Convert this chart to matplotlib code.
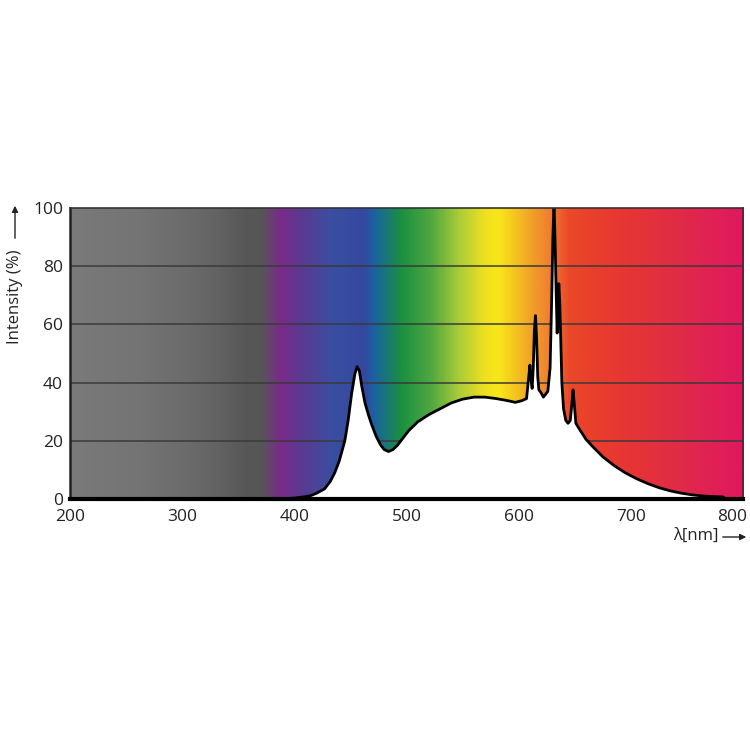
import numpy as np
import matplotlib
matplotlib.use("Agg")
import matplotlib.pyplot as plt
from matplotlib.colors import LinearSegmentedColormap
from matplotlib.patches import FancyArrowPatch
from matplotlib.transforms import ScaledTranslation

# spectrum
wavelength = [375, 390, 400, 410, 415, 420, 427, 432, 436, 440, 445, 448, 451, 454, 456, 458, 460,
              463, 466, 469, 473, 477, 480, 484, 488, 492, 496, 502, 510, 520, 530, 540, 550, 560,
              570, 580, 590, 597, 603, 607, 609, 610, 611, 612, 613, 614, 615, 616, 617, 618, 620,
              622, 624, 626, 628, 629.5, 630.5, 631.5, 632.5, 633.5, 634.3, 635, 635.8, 636.6, 637.5,
              638.5, 640, 642, 644, 646, 647.5, 648.5, 649.5, 651, 655, 660, 666, 675, 685, 695, 705,
              715, 725, 735, 745, 755, 765, 775, 782, 785]
intensity = [0, 0.1, 0.3, 0.8, 1.2, 2, 3.5, 6, 9, 13, 20, 27, 36, 43, 45.5, 44, 39,
             33, 29, 25.5, 21.5, 18.5, 17, 16.3, 17, 18.5, 20.5, 23.5, 26.5, 29, 31, 33, 34.3, 35,
             35, 34.5, 33.8, 33.2, 33.8, 34.5, 42, 46, 41, 38, 45, 58, 63, 55, 42, 37.5, 36.5,
             35, 36, 37, 45, 70, 90, 102, 88, 70, 57, 66, 74, 68, 55,
             40, 31, 27, 26, 27, 33, 37.5, 33, 26, 23.5, 20.5, 18, 14.5, 11.5, 9, 7,
             5.3, 3.9, 2.8, 2.0, 1.4, 1.0, 0.8, 0.7, 0]

# background colour stops
stop_nm = [200, 260, 300, 330, 355, 370, 387, 405, 433, 462, 471, 495, 522, 546, 570, 582,
           612, 627, 645, 686, 746, 800]
stop_col = ['#7a7a7a', '#747474', '#6c6c6c', '#636363', '#575757', '#565656', '#7a2a8a', '#5a3a92',
            '#3a4ea0', '#3448a0', '#1a62a2', '#1a9040', '#50a840', '#a8cc38', '#f0e020', '#f8e818',
            '#f0a028', '#f08030', '#ea4828', '#e83830', '#e02a48', '#e01860']

x_ticks = [200, 300, 400, 500, 600, 700, 800]
y_ticks = [0, 20, 40, 60, 80, 100]

plt.rcParams['font.family'] = ['Open Sans', 'DejaVu Sans']

fig = plt.figure(figsize=(7.5, 7.5), dpi=100)
ax = fig.add_axes([0.0933, 0.3347, 0.8974, 0.388])

cmap = LinearSegmentedColormap.from_list(
    'spec', [((n - 200) / 600, c) for n, c in zip(stop_nm, stop_col)])
grad = np.linspace(0, 1, 1200).reshape(1, -1)
ax.imshow(grad, cmap=cmap, aspect='auto', extent=[200, 800, 0, 100], zorder=0)

for yv in y_ticks[1:-1]:
    ax.axhline(yv, color='#3a3a3a', lw=1.1, zorder=1)

ax.fill_between(wavelength, intensity, 0, color='white', lw=0, zorder=2)
ax.plot(wavelength, intensity, color='black', lw=2, zorder=3, solid_joinstyle='round')

ax.set_xlim(200, 800)
ax.set_ylim(0, 100)
ax.set_xticks(x_ticks)
ax.set_yticks(y_ticks)
ax.tick_params(length=0, labelsize=12.5, colors='#222222', pad=5)
ax.tick_params(axis='x', pad=7)
last = ax.get_xticklabels()[-1]
last.set_horizontalalignment('right')
last.set_transform(last.get_transform() + ScaledTranslation(4 / 100, 0, fig.dpi_scale_trans))

for s in ['top', 'right']:
    ax.spines[s].set_color('#333333')
    ax.spines[s].set_linewidth(1.2)
ax.spines['left'].set_color('#222222')
ax.spines['left'].set_linewidth(1.8)
ax.spines['bottom'].set_color('black')
ax.spines['bottom'].set_linewidth(3)
for s in ax.spines.values():
    s.set_zorder(4)

# axis titles with arrows
fig.text(15 / 750, 1 - 297 / 750, 'Intensity (%)', rotation=90, ha='center', va='center',
         fontsize=12, color='#222222')
fig.patches.append(FancyArrowPatch(
    (15 / 750, 1 - 241 / 750), (15 / 750, 1 - 203 / 750), transform=fig.transFigure,
    arrowstyle='-|>', mutation_scale=9, lw=1, color='#222222'))
fig.text(719 / 750, 1 - 536 / 750, 'λ[nm]', ha='right', va='center', fontsize=12, color='#222222')
fig.patches.append(FancyArrowPatch(
    (720 / 750, 1 - 537 / 750), (749 / 750, 1 - 537 / 750), transform=fig.transFigure,
    arrowstyle='-|>', mutation_scale=9, lw=1, color='#222222'))

fig.savefig('out.png', dpi=100, facecolor='white')
